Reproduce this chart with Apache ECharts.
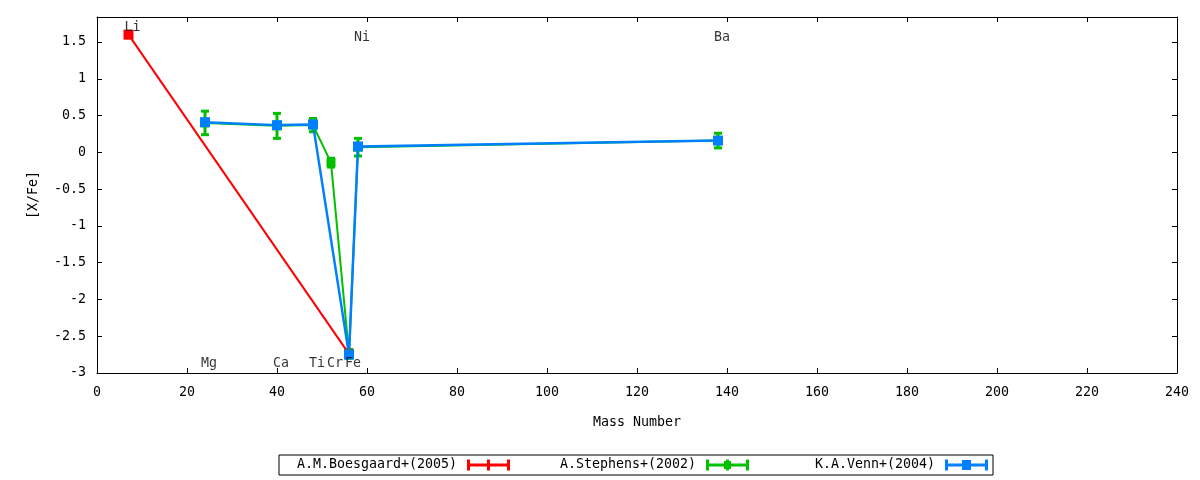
<!DOCTYPE html>
<html>
<head>
<meta charset="utf-8">
<script src="https://cdn.jsdelivr.net/npm/echarts@6/dist/echarts.min.js"></script>
<style>html,body{margin:0;padding:0;background:#fff}#c{width:1200px;height:480px}</style>
</head>
<body>
<div id="c"></div>
<script>
// ---- data ----
var xTicks = [0, 20, 40, 60, 80, 100, 120, 140, 160, 180, 200, 220, 240];
var yTicks = [-3, -2.5, -2, -1.5, -1, -0.5, 0, 0.5, 1, 1.5];

var boesgaardMass = [7, 56];
var boesgaardVal  = [1.60, -2.74];

var stephensMass = [24, 40, 48, 52, 56, 58, 138];
var stephensVal  = [0.40, 0.36, 0.37, -0.14, -2.74, 0.07, 0.16];
var stephensErr  = [0.16, 0.17, 0.09, 0.06, 0.06, 0.12, 0.10];

var vennMass = [24, 40, 48, 56, 58, 138];
var vennVal  = [0.41, 0.37, 0.38, -2.75, 0.08, 0.16];

var elemNames = ['Li', 'Ni', 'Ba', 'Mg', 'Ca', 'Ti', 'Cr', 'Fe'];
var elemX     = [7, 58, 138, 24, 40, 48, 52, 56];
var elemY     = [1.70, 1.555, 1.555, -2.87, -2.87, -2.87, -2.87, -2.87];

var seriesNames = ['A.M.Boesgaard+(2005)', 'A.Stephens+(2002)', 'K.A.Venn+(2004)'];
// ----------------

var FONT = 'DejaVu Sans Mono';
var FS = 13.3;
var RED = '#ff0000', GREEN = '#00c000', BLUE = '#0080ff';

function pairs(xs, ys) { return xs.map(function (x, i) { return [x, ys[i]]; }); }

var capsLine = 'M0 0h3v11h-3z M40 0h3v11h-3z M3 4h37v3h-37z';
var icons = [
  'path://' + capsLine + ' M20 0h3v11h-3z',
  'path://' + capsLine + ' M18 1.5h7v8h-7z M20 0h3v11h-3z',
  'path://' + capsLine + ' M17 0.5h9v10h-9z'
];

var chart = echarts.init(document.getElementById('c'), null, {renderer: 'canvas'});

var axisCommon = {
  type: 'value',
  axisLine: {show: true, onZero: false, lineStyle: {color: '#000', width: 1}},
  axisTick: {show: true, inside: true, length: 5, lineStyle: {color: '#000', width: 1}},
  splitLine: {show: false}
};

function xAxis(pos, labels) {
  return Object.assign({}, axisCommon, {
    position: pos, min: xTicks[0], max: xTicks[xTicks.length - 1], interval: xTicks[1] - xTicks[0],
    axisLabel: {show: labels, color: '#000', fontFamily: FONT, fontSize: FS, margin: 13},
    name: labels ? 'Mass Number' : '', nameLocation: 'middle', nameGap: 43,
    nameTextStyle: {color: '#000', fontFamily: FONT, fontSize: FS}
  });
}
function yAxis(pos, labels) {
  return Object.assign({}, axisCommon, {
    position: pos, min: yTicks[0], max: 1.84, interval: yTicks[1] - yTicks[0],
    axisLabel: {show: labels, color: '#000', fontFamily: FONT, fontSize: FS, margin: 11, showMaxLabel: false},
    name: labels ? '[X/Fe]' : '', nameLocation: 'middle', nameRotate: 90, nameGap: 57,
    nameTextStyle: {color: '#000', fontFamily: FONT, fontSize: FS}
  });
}

var option = {
  animation: false,
  backgroundColor: '#fff',
  grid: {left: 97, top: 17, width: 1080, height: 356, containLabel: false},
  xAxis: [xAxis('bottom', true), xAxis('top', false)],
  yAxis: [yAxis('left', true), yAxis('right', false)],
  legend: {
    left: 279, top: 455,
    orient: 'horizontal',
    align: 'right',
    itemWidth: 43, itemHeight: 11, itemGap: 16,
    padding: [3, 5, 3, 8],
    borderColor: '#000', borderWidth: 1, borderRadius: 0,
    selectedMode: false,
    textStyle: {color: '#000', fontFamily: FONT, fontSize: FS, lineHeight: 14, width: 170, padding: [0, 5, 0, 0]},
    data: seriesNames.map(function (n, i) { return {name: n, icon: icons[i]}; })
  },
  series: [
    {
      name: seriesNames[0], type: 'line', xAxisIndex: 0, yAxisIndex: 0,
      data: pairs(boesgaardMass, boesgaardVal),
      color: RED, symbol: 'rect', symbolSize: 10,
      lineStyle: {color: RED, width: 2}, itemStyle: {color: RED}, silent: true
    },
    {
      name: seriesNames[1], type: 'custom', xAxisIndex: 0, yAxisIndex: 0,
      data: stephensMass.map(function (x, i) { return [x, stephensVal[i] - stephensErr[i], stephensVal[i] + stephensErr[i]]; }),
      color: GREEN, silent: true,
      encode: {x: 0, y: [1, 2]},
      renderItem: function (params, api) {
        var lo = api.coord([api.value(0), api.value(1)]);
        var hi = api.coord([api.value(0), api.value(2)]);
        var w = 4;
        var st = {stroke: GREEN, lineWidth: 3};
        return {type: 'group', children: [
          {type: 'line', shape: {x1: lo[0], y1: lo[1], x2: hi[0], y2: hi[1]}, style: st},
          {type: 'line', shape: {x1: lo[0] - w, y1: lo[1], x2: lo[0] + w, y2: lo[1]}, style: st},
          {type: 'line', shape: {x1: hi[0] - w, y1: hi[1], x2: hi[0] + w, y2: hi[1]}, style: st}
        ]};
      }
    },
    {
      name: seriesNames[1], type: 'line', xAxisIndex: 0, yAxisIndex: 0,
      data: pairs(stephensMass, stephensVal),
      color: GREEN, symbol: 'rect', symbolSize: 9,
      lineStyle: {color: GREEN, width: 2}, itemStyle: {color: GREEN}, silent: true
    },
    {
      name: seriesNames[2], type: 'line', xAxisIndex: 0, yAxisIndex: 0,
      data: pairs(vennMass, vennVal),
      color: BLUE, symbol: 'rect', symbolSize: 10,
      lineStyle: {color: BLUE, width: 2.5}, itemStyle: {color: BLUE}, silent: true
    },
    {
      name: 'labels', type: 'scatter', xAxisIndex: 0, yAxisIndex: 0,
      symbolSize: 0, silent: true, z: 5,
      data: elemNames.map(function (n, i) { return {name: n, value: [elemX[i], elemY[i]]}; }),
      label: {show: true, position: 'inside', offset: [4, 0], formatter: '{b}', color: '#000', fontFamily: FONT, fontSize: FS}
    }
  ]
};
chart.setOption(option);
</script>
</body>
</html>
